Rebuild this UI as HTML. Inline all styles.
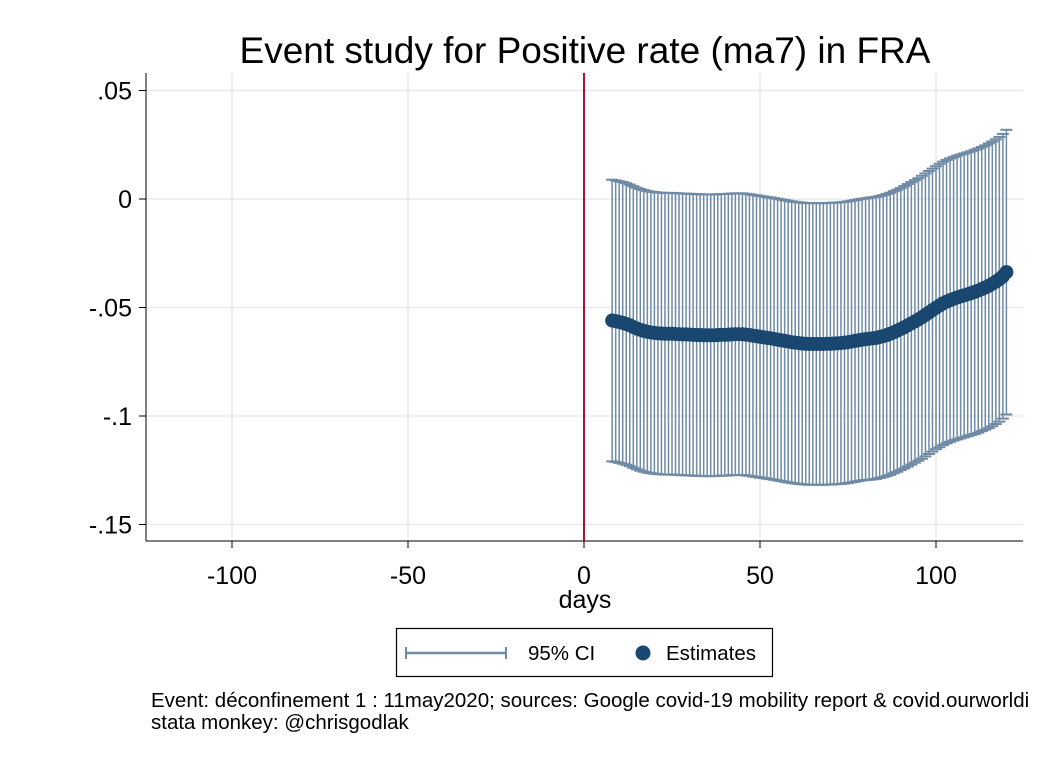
<!DOCTYPE html>
<html><head><meta charset="utf-8"><style>
body{margin:0;background:#fff;}
svg text{font-family:"Liberation Sans",Arial,sans-serif;}
</style></head><body>
<svg width="1051" height="765" viewBox="0 0 1051 765">
<rect width="1051" height="765" fill="#fff"/>
<text x="585" y="63" font-size="37" text-anchor="middle">Event study for Positive rate (ma7) in FRA</text>
<g id="grid"></g>
<g id="axes"></g>
<g id="ci"></g>
<g id="est"></g>
<text x="585" y="608" font-size="25" text-anchor="middle">days</text>
<g>
<rect x="396.5" y="628.5" width="376" height="48" fill="#fff" stroke="#000" stroke-width="1.2"/>
<g>
<line x1="406" y1="653" x2="506" y2="653" stroke="#6e8aa5" stroke-width="2.5"/>
<line x1="406" y1="647" x2="406" y2="659" stroke="#6e8aa5" stroke-width="2"/>
<line x1="506" y1="647" x2="506" y2="659" stroke="#6e8aa5" stroke-width="2"/>
<text x="528" y="660" font-size="20.5">95% CI</text></g>
<g>
<circle cx="643" cy="653" r="7.5" fill="#1a476f"/>
<text x="666" y="660" font-size="20.5">Estimates</text></g>
</g>
<text x="151" y="707" font-size="20.5">Event: déconfinement 1 : 11may2020; sources: Google covid-19 mobility report &amp; covid.ourworldi</text>
<text x="151" y="729" font-size="20.5">stata monkey: @chrisgodlak</text>
</svg>
<script>
const xTicks=[-100,-50,0,50,100];
const xTickLabels=["-100","-50","0","50","100"];
const yTicks=[0.05,0,-0.05,-0.1,-0.15];
const yTickLabels=[".05","0","-.05","-.1","-.15"];
const dayStart=8;
const estimates=[-.0560,-.0563,-.0567,-.0571,-.0576,
-.0582,-.0590,-.0597,-.0603,-.0608,-.0612,-.0615,-.0617,
-.0619,-.0620,-.0621,-.0621,-.0621,-.0622,-.0623,-.0624,-.0624,-.0625,
-.0626,-.0627,-.0627,-.0628,-.0628,-.0628,-.0628,-.0627,-.0626,-.0626,
-.0625,-.0624,-.0623,-.0623,-.0623,-.0625,-.0627,-.0630,-.0632,-.0635,
-.0637,-.0640,-.0642,-.0645,-.0648,-.0651,-.0654,-.0657,-.0660,-.0662,
-.0664,-.0666,-.0667,-.0668,-.0668,-.0668,-.0668,-.0668,-.0667,-.0667,
-.0666,-.0665,-.0664,-.0662,-.0660,-.0657,-.0654,-.0651,-.0648,-.0646,
-.0644,-.0642,-.0640,-.0636,-.0632,-.0627,-.0621,-.0614,-.0607,-.0599,
-.0591,-.0582,-.0573,-.0564,-.0555,-.0545,-.0534,-.0523,-.0512,-.0501,
-.0491,-.0481,-.0473,-.0466,-.0460,-.0454,-.0449,-.0444,-.0439,-.0434,
-.0428,-.0422,-.0415,-.0408,-.0400,-.0391,-.0381,-.0370,-.0356,-.0337];
const halfWidth=[.0649,.0649,.0649,.0649,.0649,
.0649,.0649,.0649,.0649,.0649,.0649,.0649,.0649,
.0649,.0649,.0649,.0649,.0649,.0649,.0649,.0649,.0649,.0649,
.0649,.0649,.0649,.0649,.0649,.0649,.0649,.0649,.0649,.0649,
.0649,.0649,.0649,.0649,.0649,.0649,.0649,.0649,.0649,.0649,
.0649,.0649,.0649,.0649,.0649,.0649,.0649,.0649,.0649,.0649,
.0649,.0649,.0649,.0649,.0649,.0649,.0649,.0649,.0649,.0649,
.0649,.0649,.0649,.0649,.0649,.0649,.0649,.0649,.0649,.0649,
.0650,.0650,.0650,.0650,.0650,.0650,.0650,.0650,.0650,.0650,
.0651,.0651,.0651,.0651,.0651,.0652,.0652,.0652,.0652,.0652,
.0653,.0653,.0653,.0653,.0653,.0654,.0654,.0654,.0654,.0654,
.0655,.0655,.0655,.0655,.0656,.0656,.0656,.0656,.0656,.0656];
const NS="http://www.w3.org/2000/svg";
const xs=v=>584+v*3.52, ys=v=>199-v*2170;
const L=146,R=1023,T=73,B=541;
function mk(tag,attrs,parent){const e=document.createElementNS(NS,tag);for(const k in attrs)e.setAttribute(k,attrs[k]);parent.appendChild(e);return e;}
const grid=document.getElementById('grid'),axes=document.getElementById('axes'),ci=document.getElementById('ci'),est=document.getElementById('est');
xTicks.forEach((t,i)=>{const g=mk('line',{x1:xs(t),x2:xs(t),y1:T,y2:B,stroke:'#eaeaea','stroke-width':1.5},grid);


const tk=mk('line',{x1:xs(t),x2:xs(t),y1:B,y2:B+7,stroke:'#000','stroke-width':1},axes);


const tx=mk('text',{x:xs(t),y:B+43,'font-size':25,'text-anchor':'middle'},axes);tx.textContent=xTickLabels[i];

});
yTicks.forEach((t,i)=>{const g=mk('line',{x1:L,x2:R,y1:ys(t),y2:ys(t),stroke:'#eaeaea','stroke-width':1.5},grid);


const tk=mk('line',{x1:L-7,x2:L,y1:ys(t),y2:ys(t),stroke:'#000','stroke-width':1},axes);


const tx=mk('text',{x:L-14,y:ys(t)+9,'font-size':25,'text-anchor':'end'},axes);tx.textContent=yTickLabels[i];

});
const ax1=mk('line',{x1:L,x2:L,y1:T,y2:B,stroke:'#000','stroke-width':1},axes);


const ax2=mk('line',{x1:L,x2:R,y1:B,y2:B,stroke:'#000','stroke-width':1},axes);


const ev=mk('line',{x1:xs(0),x2:xs(0),y1:T,y2:B,stroke:'#b01038','stroke-width':2},axes);


estimates.forEach((e,i)=>{const d=dayStart+i,x=xs(d),hi=ys(e+halfWidth[i]),lo=ys(e-halfWidth[i]);
const g=mk('g',{},ci);


mk('line',{x1:x,x2:x,y1:hi,y2:lo,stroke:'#6e8aa5','stroke-width':1.5},g);
mk('line',{x1:x-6,x2:x+6,y1:hi,y2:hi,stroke:'#6e8aa5','stroke-width':2},g);
mk('line',{x1:x-6,x2:x+6,y1:lo,y2:lo,stroke:'#6e8aa5','stroke-width':2},g);});
estimates.forEach((e,i)=>{const c=mk('circle',{cx:xs(dayStart+i),cy:ys(e),r:7,fill:'#1a476f'},est);

});
</script>
</body></html>
